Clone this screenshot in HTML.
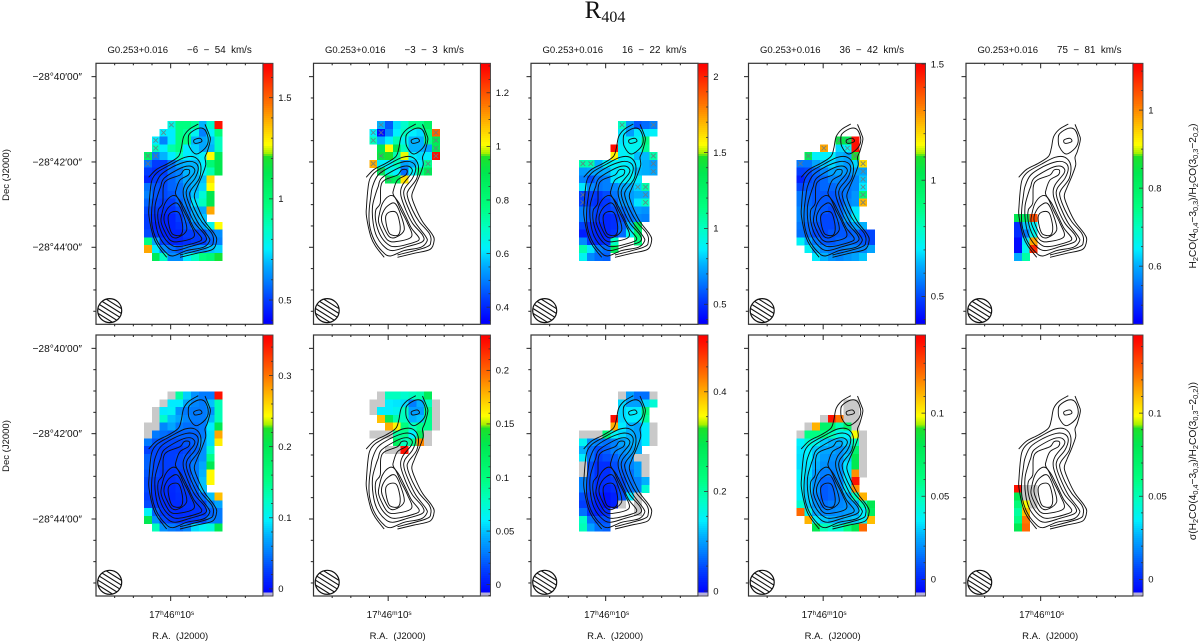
<!DOCTYPE html>
<html lang="en">
<head>
<meta charset="utf-8">
<title>R404 H2CO ratio maps</title>
<style>
html,body{margin:0;padding:0;background:#fff;}
svg{display:block;font-family:"Liberation Sans",sans-serif;fill:#111;}
text{white-space:pre;}
</style>
</head>
<body>
<svg id="figure" xmlns="http://www.w3.org/2000/svg" width="1200" height="643" viewBox="0 0 1200 643">
<text x="605" y="18" text-anchor="middle" font-family="'Liberation Serif',serif" font-size="25">R<tspan font-size="16" dy="4">404</tspan></text>
<text transform="translate(9,175) rotate(-90)" text-anchor="middle" font-size="9.5">Dec (J2000)</text>
<text transform="translate(9,446) rotate(-90)" text-anchor="middle" font-size="9.5">Dec (J2000)</text>
<text transform="translate(1196,196) rotate(-90)" text-anchor="middle" font-size="10.2">H<tspan font-size="7.3" dy="2">2</tspan><tspan dy="-2">CO(4</tspan><tspan font-size="7.3" dy="2">0,4</tspan><tspan dy="-2">−3</tspan><tspan font-size="7.3" dy="2">0,3</tspan><tspan dy="-2">)/H</tspan><tspan font-size="7.3" dy="2">2</tspan><tspan dy="-2">CO(3</tspan><tspan font-size="7.3" dy="2">0,3</tspan><tspan dy="-2">−2</tspan><tspan font-size="7.3" dy="2">0,2</tspan><tspan dy="-2">)</tspan></text>
<text transform="translate(1196,461) rotate(-90)" text-anchor="middle" font-size="10.2">σ(H<tspan font-size="7.3" dy="2">2</tspan><tspan dy="-2">CO(4</tspan><tspan font-size="7.3" dy="2">0,4</tspan><tspan dy="-2">−3</tspan><tspan font-size="7.3" dy="2">0,3</tspan><tspan dy="-2">)/H</tspan><tspan font-size="7.3" dy="2">2</tspan><tspan dy="-2">CO(3</tspan><tspan font-size="7.3" dy="2">0,3</tspan><tspan dy="-2">−2</tspan><tspan font-size="7.3" dy="2">0,2</tspan><tspan dy="-2">))</tspan></text>
</svg>
<script>
const _ = null;
const x = -0.01; // blanked (grey) pixels

const sourceName = "G0.253+0.016";
const velocityLabels = ["−6  −  54  km/s", "−3  −  3  km/s", "16  −  22  km/s", "36  −  42  km/s", "75  −  81  km/s"];

// Ratio maps (top row); rows north to south, columns east to west
const ratioA = [
[_,_,_,.80,.96,.96,.92,.68,.84,1.63],
[_,_,.75,.75,.96,.92,.78,.60,.76,.98],
[_,.75,.60,.75,.96,.96,.68,.66,.70,.86],
[_,.86,.75,.90,.96,.75,.72,.66,.68,.86],
[1.05,.60,.68,.75,.86,.75,.74,.76,1.27,1.1],
[.58,.50,.50,.58,.66,.68,.68,.75,1.0,1.13],
[.50,.48,.50,.58,.60,.68,.68,.76,.88,1.13],
[.46,.50,.52,.56,.60,.66,.68,.70,1.32,_],
[.58,.54,.52,.56,.58,.64,.68,.72,1.27,_],
[.60,.54,.52,.54,.58,.62,.70,.82,1.13,_],
[.56,.52,.50,.50,.56,.60,.74,.86,1.13,_],
[.52,.50,.48,.48,.52,.58,.68,.66,1.40,_],
[.50,.48,.46,.46,.50,.56,.66,.70,_,_],
[.50,.46,.46,.46,.48,.54,.60,.66,.78,1.27],
[.52,.48,.46,.46,.46,.50,.50,.52,.58,.62],
[.96,.66,.50,.46,.46,.48,.50,.50,.56,.60],
[1.40,.75,.62,.58,.54,.60,.62,.64,.70,.72],
[_,1.1,.85,.62,.62,.75,.85,.96,1.0,1.18]];
const ratioB = [
[_,_,.56,.46,.60,.68,.76,.76,.84,_],
[_,.62,.37,.50,.62,.70,.62,.60,.78,1.18],
[_,.70,.56,.62,.72,.64,.56,.56,.76,.88],
[_,_,.90,1.01,.90,.70,.56,.56,.54,.88],
[_,_,.92,.96,.72,1.0,.62,.60,.62,1.28],
[_,1.10,.62,.62,.70,.54,.56,.62,.76,_],
[_,_,.88,.66,.62,.48,.62,.78,.88,_],
[_,_,_,.88,.86,1.04,_,_,_,_]];
const ratioC = [
[_,_,_,_,_,1.0,.72,.58,.62,.66],
[_,_,_,_,_,.85,.72,.85,.85,.88],
[_,_,_,_,_,.85,.9,.9,1.15,_],
[_,_,_,_,2.05,.88,.9,.9,1.1,_],
[_,_,_,_,1.58,.88,.9,.78,.78,1.05],
[1.05,1.05,.76,.88,.88,.88,.85,.85,.76,.72],
[.72,.74,.74,.76,.85,.88,.88,.78,.76,.74],
[.66,.56,.64,.66,.85,.88,.88,.86,_,_],
[.85,.68,.64,.66,.68,.74,.76,.82,1.05,_],
[.54,.54,.52,.56,.64,.70,.72,.76,.76,_],
[.54,.52,.50,.52,.60,.70,.72,.85,1.0,_],
[.66,.58,.54,.52,.56,.62,.66,.72,.70,_],
[.66,.58,.52,.48,.50,.56,.64,.68,.66,_],
[.54,.50,.48,.48,.50,.60,.78,1.3,_,_],
[.46,.50,.48,.48,.52,.62,.9,1.2,_,_],
[.68,.52,.48,.50,1.0,_,_,1.15,_,_],
[1.05,.85,.66,.62,1.3,_,_,_,_,_],
[.9,.68,.62,.6,_,_,_,_,_,_]];
const ratioD = [
[_,_,_,_,_,_,_,_,_,_],
[_,_,_,_,_,_,_,_,_,_],
[_,_,_,_,_,1.05,1.03,1.47,_,_],
[_,_,_,1.27,_,.68,.72,1.47,_,_],
[_,1.0,.71,.71,.71,.64,.62,1.10,_,_],
[.56,.56,.62,.66,.68,.64,.60,.68,1.2,_],
[.49,.50,.54,.58,.62,.62,.60,.62,.62,_],
[.44,.50,.52,.54,.58,.58,.56,.58,.66,_],
[.50,.52,.52,.54,.54,.56,.56,.58,.70,_],
[.56,.54,.52,.52,.52,.54,.56,.60,.92,_],
[.56,.54,.52,.52,.52,.52,.58,.60,1.25,_],
[.58,.56,.54,.52,.50,.54,.60,.70,_,_],
[.58,.56,.54,.50,.50,.54,.62,.72,_,_],
[.56,.54,.52,.50,.50,.52,.56,.62,.64,_],
[.55,.54,.50,.50,.52,.52,.52,.54,.50,.50],
[.72,.62,.56,.52,.52,.54,.54,.54,.52,.50],
[_,.72,.62,.58,.56,.56,.58,.58,.58,.62],
[_,_,.70,.64,.60,.58,.60,.62,.66,_]];
const ratioE = [
[],[],[],[],[],[],[],[],[],[],[],[],
[.84,.80,1.05],
[.50,.62,.65],
[.50,.56,.66],
[.47,.64,.98],
[.47,.66,1.08],
[.60,.72,_]];

// Uncertainty maps (bottom row)
const errorA = [
[_,_,_,x,.14,.085,.06,.05,.05,.346],
[_,_,x,.095,.095,.07,.055,.05,.08,.13],
[_,x,.095,.10,.06,.05,.05,.05,.06,.13],
[_,x,.12,.08,.07,.055,.05,.05,.075,.13],
[x,x,.055,.07,.05,.045,.045,.05,.095,.2],
[x,.05,.045,.04,.04,.04,.04,.05,.09,.28],
[.05,.035,.03,.03,.03,.035,.04,.06,.09,.25],
[.027,.03,.025,.025,.025,.03,.04,.06,.12,_],
[.04,.03,.025,.025,.03,.035,.045,.06,.15,_],
[.04,.03,.025,.025,.03,.035,.05,.07,.2,_],
[.035,.03,.022,.02,.025,.03,.05,.075,.245,_],
[.03,.025,.02,.018,.022,.03,.045,.08,.245,_],
[.03,.022,.018,.015,.02,.025,.04,.08,_,_],
[.025,.02,.018,.014,.018,.022,.03,.045,.08,.27],
[.03,.022,.018,.016,.016,.02,.022,.025,.05,.07],
[.10,.04,.022,.018,.016,.018,.02,.022,.04,.05],
[.2,.06,.03,.022,.02,.022,.025,.03,.05,.05],
[_,.13,.06,.05,.045,.055,.09,.10,.11,.2]];
const errorB = [
[_,_,x,.08,.08,.075,.08,.085,.125,_],
[_,x,x,.06,.058,.055,.03,.045,.08,x],
[_,x,.06,.06,.065,.08,.04,.04,.095,x],
[_,_,.175,.125,.085,.08,.045,.05,.095,x],
[_,_,_,.18,.16,.10,.08,.095,.095,x],
[_,x,x,x,.09,.095,.06,.12,x,_],
[_,_,_,_,.12,.08,.095,.19,x,_],
[_,_,_,x,x,.226,_,_,_,_]];
const errorC = [
[_,_,_,_,_,x,.10,.07,.07,x],
[_,_,_,_,_,.13,.10,.10,.13,.17],
[_,_,_,_,_,.13,.14,.14,.23,_],
[_,_,_,_,.498,.13,.14,.14,.21,_],
[_,_,_,_,.40,.14,.11,.10,.14,x],
[x,x,x,.24,.15,.13,.11,.10,.14,x],
[.15,.09,.08,.07,.08,.10,.11,.11,.14,x],
[.11,.07,.05,.06,.08,.09,.10,.11,_,_],
[.14,.07,.04,.05,.06,.08,.09,x,x,_],
[x,.05,.03,.03,.05,.07,.08,.10,x,_],
[x,.05,.03,.03,.05,.06,.07,.10,x,_],
[.08,.05,.03,.03,.04,.05,.07,.08,.11,_],
[.08,.05,.03,.02,.03,.05,.07,.08,.17,_],
[.05,.04,.02,.01,.02,.05,.14,x,_,_],
[.04,.03,.02,.01,.02,x,_,x,_,_],
[.07,.03,.02,.03,_,_,_,x,_,_],
[.18,.07,.05,.05,_,_,_,_,_,_],
[.19,.10,.07,.06,_,_,_,_,_,_]];
const errorD = [
[_,_,_,_,_,_,_,_,_,_],
[_,_,_,_,_,_,x,x,_,_],
[_,_,_,_,_,_,x,x,_,_],
[_,_,_,x,.142,.123,x,x,_,_],
[_,x,.112,.07,.07,.05,.07,x,_,_],
[x,.06,.06,.06,.05,.04,.036,.098,x,_],
[.036,.045,.04,.03,.026,.026,.03,.05,x,_],
[.034,.036,.03,.024,.024,.02,.026,.07,x,_],
[.033,.036,.028,.022,.02,.02,.03,.08,x,_],
[.033,.034,.026,.02,.018,.02,.034,.08,x,_],
[.036,.032,.022,.016,.016,.02,.034,.118,x,_],
[.036,.03,.02,.012,.012,.018,.034,.142,_,_],
[.036,.03,.02,.01,.012,.018,.034,.118,_,_],
[.036,.03,.018,.01,.012,.016,.024,.05,.112,_],
[.045,.03,.02,.014,.016,.018,.02,.024,.05,.08],
[.125,.04,.024,.018,.018,.02,.022,.024,.036,.075],
[_,.112,.036,.03,.026,.024,.028,.03,.036,.11],
[_,_,.08,.05,.045,.045,.06,.08,.125,_]];
const errorE = [
[],[],[],[],[],[],[],[],[],[],[],[],
[.142,x,x],
[.08,x,x],
[.065,.098,x],
[.055,.11,_],
[.06,.122,_],
[.08,.125,_]];

const ratioMaps = [ratioA, ratioB, ratioC, ratioD, ratioE];
const errorMaps = [errorA, errorB, errorC, errorD, errorE];

// Flagged pixels [row, column]
const flaggedA = [[0,3],[1,2],[2,1],[3,1],[4,0],[4,1],[5,0]];
const flaggedB = [[0,2],[1,1],[1,2],[1,9],[2,1],[2,9],[3,9],[4,2],[4,9],[5,1],[5,8],[6,2],[6,8],[7,3]];
const flaggedC = [[0,5],[0,9],[4,9],[5,0],[5,1],[5,9],[6,9],[8,7],[8,8],[9,0],[10,0],[9,8],[10,8]];
const flaggedD = [[2,5],[2,6],[3,3],[3,6],[4,1],[4,7],[5,0],[5,8],[6,8],[7,8],[8,8],[9,8],[10,8]];
const flaggedE = [];
const flaggedMaps = [flaggedA, flaggedB, flaggedC, flaggedD, flaggedE];

// Colour bar limits and ticks
const ratioMin = [.38, .336, .368, .38, .451];
const ratioMax = [1.67, 1.31, 2.088, 1.503, 1.12];
const ratioTicks = [[.5,1,1.5],[.4,.6,.8,1,1.2],[.5,1,1.5,2],[.5,1,1.5],[.6,.8,1]];
const ratioMinorStep = [.1, .05, .1, .1, .05];
const errorMin = [-.01, -.0106, -.01, -.01, -.01];
const errorMax = [.357, .233, .514, .147, .147];
const errorTicks = [[0,.1,.2,.3],[0,.05,.1,.15,.2],[0,.2,.4],[0,.05,.1],[0,.05,.1]];
const errorMinorStep = [.02, .01, .05, .01, .01];

// Declination ticks in arcsec offset from -28°42'00", major labels
const decTickOffsets = [120,90,60,30,0,-30,-60,-90,-120,-150,-180,-210];
const decMajorOffsets = [120,0,-120];
const decLabels = ["−28°40′00″","−28°42′00″","−28°44′00″"];
// RA ticks in map units from 17h46m10s
const raTickOffsets = [-168,-112,-56,0,56,112,168,224];

// Integrated-intensity contours, offsets from map centre (1 unit = 0.47 arcsec)
const contourOuterA = [[-66,-46],[-42,-22],[-7,-4],[23,16],[32,41],[39,76],[56,98],[83,114]];
const contourOuterB = [[103,113],[116,81],[119,66],[110,31],[103,14],[105,-9],[93,-44],[78,-79],[71,-104],[83,-139],[103,-179],[130,-214],[138,-234],[126,-262],[78,-274],[28,-286]];
const contourSecond = [[-12,-286],[-37,-254],[-52,-224],[-65,-164],[-65,-134],[-60,-74],[-54,-49],[-37,-29],[3,-6],[43,14],[73,14],[90,-9],[86,-49],[61,-84],[58,-104],[73,-144],[93,-179],[123,-214],[128,-239],[113,-256],[28,-279]];
const contourThird = [[-47,-74],[-30,-39],[8,-14],[48,1],[73,-2],[83,-19],[73,-49],[50,-79],[48,-104],[63,-144],[83,-184],[113,-224],[116,-239],[98,-256],[48,-266],[6,-282],[-17,-269],[-42,-234],[-56,-189],[-57,-144],[-52,-104]];
const contourFourth = [[-30,-74],[-20,-49],[23,-22],[53,-12],[70,-19],[70,-34],[43,-69],[38,-99],[53,-144],[73,-184],[103,-219],[103,-239],[58,-254],[13,-266],[-12,-254],[-34,-224],[-45,-184],[-47,-134],[-37,-94]];
const contourFifth = [[-24,-124],[-22,-74],[-10,-54],[28,-39],[40,-24],[56,-24],[53,-39],[28,-54],[16,-84],[16,-99],[33,-124],[53,-164],[70,-199],[93,-229],[78,-241],[23,-254],[-2,-246],[-24,-219],[-37,-179],[-37,-144]];
const contourSixth = [[-27,-159],[-17,-124],[3,-102],[20,-106],[38,-144],[58,-184],[70,-224],[23,-239],[-2,-234],[-20,-204],[-29,-179]];
const contourSeventh = [[-17,-154],[-2,-132],[20,-124],[38,-159],[48,-204],[23,-226],[3,-224],[-14,-194],[-20,-174]];
const contourEighth = [[-7,-162],[8,-149],[26,-154],[36,-194],[30,-219],[6,-217],[-4,-194]];
const contourPeakOuter = [[58,86],[83,101],[103,96],[113,66],[103,41],[76,24],[56,46],[53,71]];
const contourPeakInner = [[70,66],[88,71],[93,61],[73,56]];
const contourLines = [contourOuterA, contourOuterB, contourSecond, contourThird, contourFourth, contourFifth, contourSixth, contourSeventh, contourEighth, contourPeakOuter, contourPeakInner];
const contourClosed = [false, false, false, true, true, true, true, true, true, true, true];

const SVGNS = "http://www.w3.org/2000/svg";
const root = document.getElementById("figure");
const FRAME_W = 167, FRAME_H = 261, BAR_W = 10;
const CELL_W = 7.83, CELL_H = 7.76;
const frameLefts = [96, 313.5, 531, 748.5, 966];
const frameTops = [63.3, 335];
const gridTop = [57.7, 56.7];
const colorStops = [
[.015,0,0,255],[.1,0,64,255],[.17,0,128,255],[.23,0,176,255],[.29,0,240,255],[.37,0,255,192],
[.45,0,255,128],[.58,0,232,80],[.645,30,225,40],[.655,160,240,0],[.69,255,255,0],[.78,255,176,0],
[.85,255,112,0],[.97,255,16,0],[1,255,0,0]];

function make(parent, tag, attrs) {
  const el = document.createElementNS(SVGNS, tag);
  for (const k in attrs) el.setAttribute(k, attrs[k]);
  parent.appendChild(el);
  return el;
}
function rampColor(t) {
  if (t <= colorStops[0][0]) { const s = colorStops[0]; return `rgb(${s[1]},${s[2]},${s[3]})`; }
  for (let i = 1; i < colorStops.length; i++) {
    const a = colorStops[i - 1], b = colorStops[i];
    if (t <= b[0]) {
      const f = (t - a[0]) / (b[0] - a[0]);
      return `rgb(${Math.round(a[1] + f * (b[1] - a[1]))},${Math.round(a[2] + f * (b[2] - a[2]))},${Math.round(a[3] + f * (b[3] - a[3]))})`;
    }
  }
  return "rgb(255,0,0)";
}
function smoothPath(points, closed) {
  const n = points.length;
  const at = i => closed ? points[(i + n) % n] : points[Math.max(0, Math.min(n - 1, i))];
  let d = `M${points[0][0].toFixed(1)} ${points[0][1].toFixed(1)}`;
  const last = closed ? n : n - 1;
  for (let i = 0; i < last; i++) {
    const p0 = at(i - 1), p1 = at(i), p2 = at(i + 1), p3 = at(i + 2);
    const c1x = p1[0] + (p2[0] - p0[0]) / 6, c1y = p1[1] + (p2[1] - p0[1]) / 6;
    const c2x = p2[0] - (p3[0] - p1[0]) / 6, c2y = p2[1] - (p3[1] - p1[1]) / 6;
    d += `C${c1x.toFixed(1)} ${c1y.toFixed(1)} ${c2x.toFixed(1)} ${c2y.toFixed(1)} ${p2[0].toFixed(1)} ${p2[1].toFixed(1)}`;
  }
  return closed ? d + "Z" : d;
}

function drawPanel(col, row, grid, flagged, vmin, vmax, ticks, minorStep) {
  const fx = frameLefts[col], fy = frameTops[row];
  const xCell = c => fx + 48 + c * CELL_W;
  const yCell = r => fy + gridTop[row] + r * CELL_H;
  const xMap = u => fx + 74.67 + u / 3;
  const yMap = u => fy + 98.67 - u / 3;
  const yDec = s => fy + 98.67 - s * 0.711;
  const yBar = v => fy + FRAME_H - (v - vmin) / (vmax - vmin) * FRAME_H;
  const barX = fx + FRAME_W;

  const panel = make(root, "g", {});
  
  

  // heatmap cells
  grid.forEach((cells, r) => cells.forEach((v, c) => {
    if (v === null) return;
    const t = (v - vmin) / (vmax - vmin);
    const fill = t < 0.015 ? "#c9c9c9" : rampColor(t);
    const cell = make(panel, "rect", {x: xCell(c), y: yCell(r), width: CELL_W + .2, height: CELL_H + .2, fill: fill, "shape-rendering": "crispEdges"});
    
    
  }));

  // flagged pixels
  flagged.forEach(([r, c]) => {
    const cx = xCell(c) + CELL_W / 2, cy = yCell(r) + CELL_H / 2, h = 2.3;
    const mark = make(panel, "path", {d: `M${cx - h} ${cy - h}L${cx + h} ${cy + h}M${cx - h} ${cy + h}L${cx + h} ${cy - h}`, stroke: "#6a7a80", "stroke-width": .9, fill: "none", opacity: .85});
    
    
  });

  // contours
  contourLines.forEach((line, i) => {
    const pts = line.map(p => [xMap(p[0]), yMap(p[1])]);
    const contour = make(panel, "path", {d: smoothPath(pts, contourClosed[i]), fill: "none", stroke: "#111", "stroke-width": .95, "stroke-linejoin": "round"});
    
    
  });

  // frame
  const frame = make(panel, "rect", {x: fx, y: fy, width: FRAME_W, height: FRAME_H, fill: "none", stroke: "#333", "stroke-width": 1.2});
  
  

  // dec ticks
  decTickOffsets.forEach(s => {
    const len = decMajorOffsets.includes(s) ? 4.5 : 2.7;
    const tick = make(panel, "line", {x1: fx - len, x2: fx, y1: yDec(s), y2: yDec(s), stroke: "#222", "stroke-width": 1});
    
    
  });
  decMajorOffsets.forEach((s, i) => {
    if (col !== 0) return;
    const label = make(panel, "text", {x: fx - 14, y: yDec(s) + 3.4, "text-anchor": "end", "font-size": 10.2});
    
    
    label.textContent = decLabels[i];
  });

  // RA ticks
  raTickOffsets.forEach(u => {
    const major = u === 0;
    const tx = xMap(u);
    const bottomTick = make(panel, "line", {x1: tx, x2: tx, y1: fy + FRAME_H, y2: fy + FRAME_H + (major ? 5 : 2), stroke: "#222", "stroke-width": 1});
    
    
    const topTick = make(panel, "line", {x1: tx, x2: tx, y1: fy, y2: fy + (major ? 5 : 2), stroke: "#222", "stroke-width": 1});
    
    
  });

  // beam
  const clipId = `beam-clip-${col}-${row}`;
  const bx = fx + 13.7, by = fy + 247.3, br = 12;
  const clip = make(panel, "clipPath", {id: clipId});
  make(clip, "circle", {cx: bx, cy: by, r: br});
  const beamHatch = make(panel, "g", {"clip-path": `url(#${clipId})`});
  
  
  const hatchInner = make(beamHatch, "g", {transform: `rotate(32 ${bx} ${by})`});
  for (let h = -12; h <= 12; h += 4.1) {
    make(hatchInner, "line", {x1: bx - 16, x2: bx + 16, y1: by + h, y2: by + h, stroke: "#111", "stroke-width": 1.1});
  }
  const beam = make(panel, "circle", {cx: bx, cy: by, r: br, fill: "none", stroke: "#111", "stroke-width": 1.2});
  
  

  // colour bar
  const bar = make(panel, "g", {});
  
  
  const levels = 130;
  for (let i = 0; i < levels; i++) {
    const t = (i + .5) / levels;
    const fill = (row === 1 && t < .015) ? "#b6b0d8" : rampColor(t);
    make(bar, "rect", {x: barX, y: fy + FRAME_H * (1 - (i + 1) / levels), width: BAR_W, height: FRAME_H / levels + .3, fill: fill, "shape-rendering": "crispEdges"});
  }
  make(bar, "rect", {x: barX, y: fy, width: BAR_W, height: FRAME_H, fill: "none", stroke: "#444", "stroke-width": .9});
  const firstMinor = Math.ceil(vmin / minorStep);
  for (let k = firstMinor; k * minorStep <= vmax; k++) {
    const v = k * minorStep;
    const isMajor = ticks.some(m => Math.abs(m - v) < 1e-6);
    const ty = yBar(v);
    const barTick = make(bar, "line", {x1: barX + BAR_W - (isMajor ? 4 : 2), x2: barX + BAR_W, y1: ty, y2: ty, stroke: "#333", "stroke-width": .8});
    
    
  }
  ticks.forEach(v => {
    const label = make(panel, "text", {x: barX + BAR_W + 5.3, y: yBar(v) + 3.3, "font-size": 9.5});
    
    
    label.textContent = String(v);
  });

  if (row === 0) {
    const src = make(panel, "text", {x: fx + 11.5, y: 53, "font-size": 9.5});
    
    
    src.textContent = sourceName;
    const vel = make(panel, "text", {x: fx + 91, y: 53, "font-size": 9.8});
    
    
    vel.textContent = velocityLabels[col];
  } else {
    const ra = make(panel, "text", {x: xMap(0) + 1, y: 618, "text-anchor": "middle", "font-size": 9.5});
    
    
    [["17",0],["h",-3],["46",3],["m",-3],["10",3],["s",-3]].forEach(([s, dy], i) => {
      const span = make(ra, "tspan", {dy: dy, "font-size": i % 2 ? 6.5 : 9.8});
      span.textContent = s;
    });
    const title = make(panel, "text", {x: xMap(0) + 9.5, y: 639, "text-anchor": "middle", "font-size": 9.5});
    
    
    title.textContent = "R.A.  (J2000)";
  }
}

for (let c = 0; c < 5; c++) {
  drawPanel(c, 0, ratioMaps[c], flaggedMaps[c], ratioMin[c], ratioMax[c], ratioTicks[c], ratioMinorStep[c]);
  drawPanel(c, 1, errorMaps[c], [], errorMin[c], errorMax[c], errorTicks[c], errorMinorStep[c]);
}
</script>
</body>
</html>
